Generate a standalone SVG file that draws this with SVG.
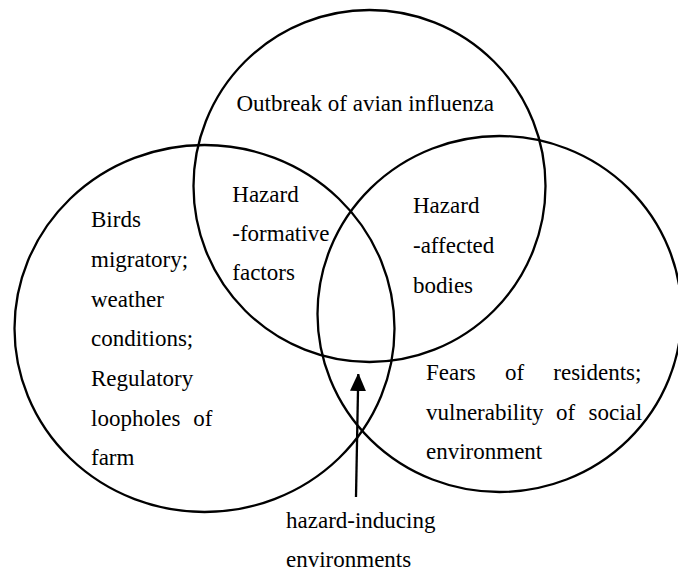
<svg xmlns="http://www.w3.org/2000/svg" width="678" height="573" viewBox="0 0 678 573">
<style>
.c{fill:none;stroke:#000;stroke-width:2.3}
text{font-family:"Liberation Serif","Times New Roman",serif;font-size:23px;fill:#000}
</style>
<defs>
<marker id="ah" markerUnits="userSpaceOnUse" markerWidth="16" markerHeight="18" refX="17" refY="8" orient="auto">
<path d="M0,0 L18,8 L0,16 Z" fill="#000"/>
</marker>
</defs>
<rect width="678" height="573" fill="#fff"/>
<g id="top-circle">
<ellipse class="c" cx="369.5" cy="186" rx="176" ry="176"/>
<text x="236.5" y="111">Outbreak of avian influenza</text>
</g>
<g id="left-circle">
<ellipse class="c" cx="204.5" cy="328.5" rx="190" ry="183.5"/>
<text x="91" y="227">Birds</text>
<text x="91" y="267">migratory;</text>
<text x="91" y="306.5">weather</text>
<text x="91" y="346">conditions;</text>
<text x="91" y="386">Regulatory</text>
<text x="91" y="425.5">loopholes</text>
<text x="193.3" y="425.5">of</text>
<text x="91" y="465">farm</text>
</g>
<g id="right-circle">
<ellipse class="c" cx="499.5" cy="314" rx="182" ry="178"/>
<text x="426" y="380">Fears</text>
<text x="505" y="380">of</text>
<text x="553.3" y="380">residents;</text>
<text x="426" y="419.5">vulnerability</text>
<text x="556" y="419.5">of</text>
<text x="588.5" y="419.5">social</text>
<text x="426" y="458.5">environment</text>
</g>
<g id="hazard-formative">
<text x="232.3" y="201.5">Hazard</text>
<text x="232.3" y="241">-formative</text>
<text x="232.3" y="280">factors</text>
</g>
<g id="hazard-affected">
<text x="413" y="213">Hazard</text>
<text x="413" y="253">-affected</text>
<text x="413" y="293">bodies</text>
</g>
<g id="hazard-inducing">
<text x="286" y="528">hazard-inducing</text>
<text x="286" y="566.5">environments</text>
</g>
<g id="connectors">
<line x1="356" y1="497" x2="358.3" y2="374" stroke="#000" stroke-width="2.3" marker-end="url(#ah)"/>
</g>
</svg>
